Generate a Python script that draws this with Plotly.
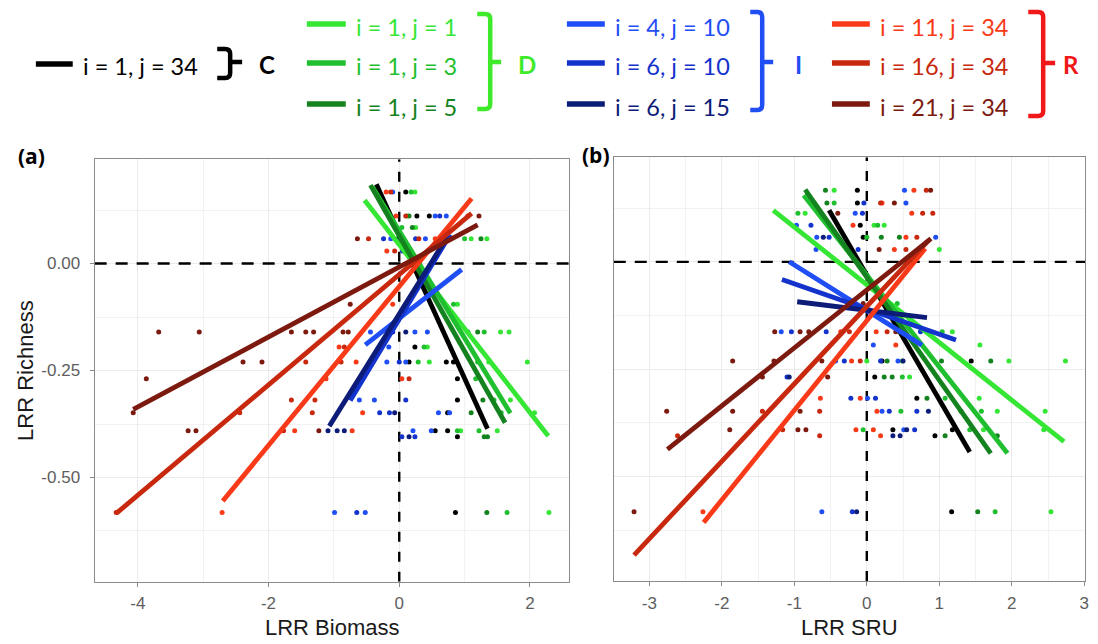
import plotly.graph_objects as go

W, H = 1098, 644

# ---------------- series definitions ----------------
series_names = ["i = 1, j = 34", "i = 1, j = 1", "i = 1, j = 3", "i = 1, j = 5",
                "i = 4, j = 10", "i = 6, j = 10", "i = 6, j = 15",
                "i = 11, j = 34", "i = 16, j = 34", "i = 21, j = 34"]
series_colors = ["#000000", "#35e635", "#1fbf2f", "#14821e",
                 "#1f4ef5", "#1432cc", "#0c1c78",
                 "#f83a18", "#c8280e", "#7d1a0f"]

# ---------------- panel (a): LRR Biomass vs LRR Richness ----------------
bio_x_c = [0.10, 0.27, 0.46, 0.24, 0.15, 0.72, 0.83, 0.89, 0.89, 0.74, 0.55, 0.74, 0.89, 0.86, -0.02]
bio_y_c = [0.167, 0.111, 0.111, -0.195, -0.230, -0.230, -0.230, -0.269, -0.319, -0.349, -0.391, -0.391, -0.405, -0.582, 0.058]
bio_x_d1 = [0.24, 0.12, 0.25, 1.34, 1.10, 0.89, 1.68, 1.55, 0.43, 0.46, 1.96, 1.70, 2.07, 1.50, 0.94, 2.29, 1.37]
bio_y_d1 = [0.167, 0.111, 0.084, 0.058, 0.058, -0.095, -0.160, -0.160, -0.195, -0.230, -0.230, -0.319, -0.349, -0.391, -0.391, -0.582, -0.230]
bio_x_d3 = [0.18, 0.04, 1.00, 0.83, 1.30, 0.38, 0.29, 1.17, 1.45, 1.56, 1.22, 0.89, 1.65, 1.20]
bio_y_d3 = [0.167, 0.084, 0.058, -0.095, -0.160, -0.195, -0.230, -0.269, -0.319, -0.349, -0.391, -0.391, -0.582, -0.230]
bio_x_d5 = [0.15, 0.20, 1.25, 1.05, 1.20, 1.28, 1.10, 1.30, 1.35, 1.34, 0.08]
bio_y_d5 = [0.111, 0.084, 0.058, -0.160, -0.160, -0.319, -0.349, -0.405, -0.405, -0.582, 0.029]
bio_x_i4 = [-0.10, 0.55, 0.72, -0.13, 0.40, -0.44, 0.24, 0.43, -0.16, -0.19, 0.10, -0.61, -0.38, 0.60, 0.77, 0.21, 0.49, -0.99, -0.52]
bio_y_i4 = [0.167, 0.111, 0.111, 0.058, 0.058, -0.160, -0.160, -0.160, -0.195, -0.230, -0.230, -0.319, -0.319, -0.349, -0.349, -0.391, -0.391, -0.582, -0.582]
bio_x_i6 = [0.62, -0.24, 0.25, -0.10, 0.00, 0.10, -0.30, -0.15, 0.04, 0.24, -0.65, 0.05]
bio_y_i6 = [0.111, 0.058, 0.058, -0.160, -0.230, -0.319, -0.349, -0.349, -0.405, -0.405, -0.582, 0.029]
bio_x_i15 = [0.00, 0.10, -0.07, -1.09, -0.95, -0.84, 0.15]
bio_y_i15 = [0.058, -0.160, -0.349, -0.391, -0.391, -0.391, -0.405]
bio_x_r11 = [-0.20, -0.05, 0.55, -0.19, -0.10, -0.92, -0.41, -0.66, 0.04, -0.56, -0.72, -1.60, -2.71, -1.12]
bio_y_r11 = [0.167, 0.111, 0.058, 0.029, -0.095, -0.195, -0.230, -0.230, -0.269, -0.349, -0.391, -0.391, -0.582, -0.269]
bio_x_r16 = [-0.13, 0.10, 1.05, -0.47, 0.30, -0.07, -0.84, -0.89, -1.43, 0.15, -1.65, -1.29, -2.44, -1.33, -1.77, -4.33]
bio_y_r16 = [0.167, 0.111, 0.111, 0.058, 0.058, 0.029, -0.195, -0.230, -0.230, -0.269, -0.319, -0.319, -0.349, -0.349, -0.391, -0.582]
bio_x_r21 = [-0.64, -0.75, 1.22, -3.68, -3.06, -1.65, -1.43, -1.31, -0.86, -0.78, -2.39, -2.10, -3.87, -4.07, -3.23, -3.11, -1.23]
bio_y_r21 = [0.058, -0.095, 0.111, -0.160, -0.160, -0.160, -0.160, -0.160, -0.160, -0.160, -0.230, -0.230, -0.269, -0.349, -0.391, -0.391, -0.391]

# fitted lines, panel (a): [x_start, x_end], [y_start, y_end]
bio_fit_x = [[-0.35, 1.35], [-0.53, 2.28], [-0.41, 1.70], [-0.44, 1.62],
             [-0.52, 0.955], [-0.75, 0.78], [-1.07, 0.73],
             [-2.70, 1.107], [-4.33, 1.107], [-4.07, 1.20]]
bio_fit_y = [[0.185, -0.386], [0.148, -0.403], [0.179, -0.350], [0.183, -0.372],
             [-0.190, -0.014], [-0.320, 0.068], [-0.380, 0.061],
             [-0.555, 0.152], [-0.584, 0.117], [-0.341, 0.090]]

# ---------------- panel (b): LRR SRU vs LRR Richness ----------------
sru_x_c = [-0.13, -0.13, -0.09, -0.05, 0.21, 1.44, 0.11, 0.69, 0.36, 1.18, 0.94, 1.17]
sru_y_c = [0.167, 0.137, 0.085, 0.057, -0.231, -0.231, -0.268, -0.318, -0.391, -0.391, -0.405, -0.582]
sru_x_d1 = [-0.45, -0.85, 0.10, 0.24, 1.00, 1.18, 1.56, 0.00, 1.96, 2.74, 0.59, 1.55, 2.46, 1.80, 2.44, 1.61, 2.54]
sru_y_d1 = [0.167, 0.113, 0.085, 0.085, 0.029, -0.163, -0.194, -0.231, -0.231, -0.231, -0.268, -0.318, -0.348, -0.348, -0.391, -0.391, -0.582]
sru_x_d3 = [-0.45, -0.95, 0.15, 0.00, 0.42, 1.04, 0.49, 0.49, 1.08, 0.47, 1.58, 1.42, -0.05, 1.77]
sru_y_d3 = [0.137, 0.113, 0.085, 0.057, -0.097, -0.163, -0.231, -0.268, -0.318, -0.348, -0.348, -0.391, -0.391, -0.582]
sru_x_d5 = [-0.57, -0.55, 0.20, 0.45, 0.28, 1.03, 1.71, 0.24, 0.35, 0.83, 1.30, 1.08, 1.80, 1.53]
sru_y_d5 = [0.167, 0.137, 0.057, 0.057, -0.231, -0.231, -0.231, -0.268, -0.268, -0.318, -0.348, -0.405, -0.405, -0.582]
sru_x_i4 = [0.52, 0.54, -0.16, -0.97, -0.69, 0.95, -0.70, -1.18, 0.09, -0.43, 0.43, 0.01, 0.21, 0.51, -0.62]
sru_y_i4 = [0.167, 0.137, 0.113, 0.085, 0.057, 0.057, 0.029, -0.163, -0.194, -0.231, -0.231, -0.318, -0.348, -0.391, -0.582]
sru_x_i6 = [-0.04, -0.06, -0.77, -0.52, -0.12, -1.04, -0.56, 0.74, -0.31, 0.19, -1.10, -0.22, 0.12, 0.31, 0.69, 0.66, -0.20]
sru_y_i6 = [0.137, 0.113, 0.085, 0.057, 0.029, -0.163, -0.163, -0.163, -0.231, -0.231, -0.268, -0.318, -0.318, -0.348, -0.348, -0.391, -0.582]
sru_x_i15 = [-0.60, 0.50, -1.07, 0.85, 0.36, 0.46, -0.14, 0.55]
sru_y_i15 = [0.057, -0.231, -0.268, -0.348, -0.405, -0.405, -0.582, -0.391]
sru_x_r11 = [0.65, 0.21, 0.62, -0.19, 0.54, 0.38, -0.36, 0.13, 0.40, -0.21, -0.09, -0.64, 0.14, -0.15, 0.09, 0.19, -2.26]
sru_y_r11 = [0.167, 0.137, 0.113, 0.085, 0.057, 0.029, -0.163, -0.163, -0.194, -0.231, -0.318, -0.318, -0.348, -0.391, -0.391, -0.405, -0.582]
sru_x_r16 = [0.82, 0.19, 0.77, 0.91, 0.69, 0.54, -0.24, 0.28, -0.09, -0.65, -1.44, -1.16, -0.65, -2.61]
sru_y_r16 = [0.167, 0.137, 0.113, 0.113, 0.057, 0.029, -0.163, -0.163, -0.231, -0.348, -0.348, -0.391, -0.405, -0.405]
sru_x_r21 = [0.88, 0.38, -0.40, 0.17, -0.05, -1.27, -0.92, -0.80, 0.40, -1.85, -1.28, -0.62, -1.44, -0.54, -2.76, -1.85, -0.92, -1.89, -0.95, -0.84, -3.21]
sru_y_r21 = [0.167, 0.137, 0.113, 0.029, -0.097, -0.163, -0.163, -0.163, -0.163, -0.231, -0.231, -0.231, -0.268, -0.268, -0.348, -0.348, -0.348, -0.391, -0.391, -0.391, -0.582]

sru_fit_x = [[-0.52, 1.42], [-1.29, 2.72], [-0.87, 1.94], [-0.85, 1.71],
             [-1.07, 0.76], [-1.17, 1.23], [-0.96, 0.83],
             [-2.25, 0.805], [-3.21, 0.853], [-2.75, 0.885]]
sru_fit_y = [[0.120, -0.443], [0.120, -0.419], [0.155, -0.446], [0.168, -0.446],
             [0.000, -0.194], [-0.041, -0.182], [-0.093, -0.130],
             [-0.607, 0.031], [-0.683, 0.050], [-0.437, 0.054]]

bio_pts = [(bio_x_c, bio_y_c), (bio_x_d1, bio_y_d1), (bio_x_d3, bio_y_d3), (bio_x_d5, bio_y_d5),
           (bio_x_i4, bio_y_i4), (bio_x_i6, bio_y_i6), (bio_x_i15, bio_y_i15),
           (bio_x_r11, bio_y_r11), (bio_x_r16, bio_y_r16), (bio_x_r21, bio_y_r21)]
sru_pts = [(sru_x_c, sru_y_c), (sru_x_d1, sru_y_d1), (sru_x_d3, sru_y_d3), (sru_x_d5, sru_y_d5),
           (sru_x_i4, sru_y_i4), (sru_x_i6, sru_y_i6), (sru_x_i15, sru_y_i15),
           (sru_x_r11, sru_y_r11), (sru_x_r16, sru_y_r16), (sru_x_r21, sru_y_r21)]

# axis ticks and ranges
bio_range = [-4.66, 2.596]
sru_range = [-3.49, 3.01]
rich_range = [-0.7435, 0.2435]
bio_ticks = [-4, -2, 0, 2]
bio_minor = [-3, -1, 1]
sru_ticks = [-3, -2, -1, 0, 1, 2, 3]
sru_minor = [-2.5, -1.5, -0.5, 0.5, 1.5, 2.5]
rich_ticks = [-0.5, -0.25, 0.0]
rich_ticktext = ["-0.50", "-0.25", "0.00"]
rich_minor = [-0.625, -0.375, -0.125, 0.125]

# legend groups
group_labels = ["C", "D", "I", "R"]
group_colors = ["#000000", "#3fea2a", "#1f4ef5", "#f01818"]

fig = go.Figure()

# points first, then lines
for k in range(len(series_names)):
    bx, by = bio_pts[k]
    fig.add_trace(go.Scatter(x=bx, y=by, mode="markers", xaxis="x", yaxis="y",
                             marker=dict(size=5, color=series_colors[k]), hoverinfo="skip"))
    sx, sy = sru_pts[k]
    fig.add_trace(go.Scatter(x=sx, y=sy, mode="markers", xaxis="x2", yaxis="y2",
                             marker=dict(size=5, color=series_colors[k]), hoverinfo="skip"))
for k in range(len(series_names)):
    fig.add_trace(go.Scatter(x=bio_fit_x[k], y=bio_fit_y[k], mode="lines", xaxis="x", yaxis="y",
                             line=dict(width=4.8, color=series_colors[k]), hoverinfo="skip"))
    fig.add_trace(go.Scatter(x=sru_fit_x[k], y=sru_fit_y[k], mode="lines", xaxis="x2", yaxis="y2",
                             line=dict(width=4.8, color=series_colors[k]), hoverinfo="skip"))

BORDER = "#8a8a8a"
GRID = "#ebebeb"
tickfont = dict(family="Liberation Sans, Arial, sans-serif", size=17, color="#5e5e5e")


def axis(domain, rng, tickvals, ticktext, minor_vals, show_labels=True, show_ticks=True, anchor=None):
    d = dict(domain=domain, range=rng, tickmode="array", tickvals=tickvals, ticktext=ticktext,
             showline=True, mirror=True, linecolor=BORDER, linewidth=1.3,
             showgrid=True, gridcolor=GRID, gridwidth=1.1, zeroline=False,
             ticks="outside" if show_ticks else "", ticklen=4, tickwidth=1.3, tickcolor=BORDER,
             showticklabels=show_labels, tickfont=tickfont, fixedrange=True,
             minor=dict(tickmode="array", tickvals=minor_vals, showgrid=True, gridcolor="#f2f2f2",
                        gridwidth=1, ticks=""))
    if anchor:
        d["anchor"] = anchor
    return d


fig.update_layout(
    width=W, height=H, margin=dict(l=0, r=0, t=0, b=0),
    paper_bgcolor="white", plot_bgcolor="white", showlegend=False,
    xaxis=axis([95 / W, 571 / W], bio_range, bio_ticks, [str(v) for v in bio_ticks], bio_minor, anchor="y"),
    yaxis=axis([1 - 581.7 / H, 1 - 159.3 / H], rich_range, rich_ticks, rich_ticktext, rich_minor, anchor="x"),
    xaxis2=axis([616 / W, 1089 / W], sru_range, sru_ticks, [str(v) for v in sru_ticks], sru_minor, anchor="y2"),
    yaxis2=axis([1 - 581 / H, 1 - 157.3 / H], rich_range, rich_ticks, rich_ticktext, rich_minor,
                show_labels=False, show_ticks=False, anchor="x2"),
)
fig.layout.yaxis.ticklabelstandoff = 6
fig.layout.xaxis.ticklabelstandoff = 2
fig.layout.xaxis2.ticklabelstandoff = 2

shapes = []
# dashed reference lines at zero (between grid and data)
for xr, yrf, xrange_ in (("x", "y", bio_range), ("x2", "y2", sru_range)):
    shapes.append(dict(type="line", xref=xr, yref=yrf, x0=xrange_[0], x1=xrange_[1], y0=0, y1=0,
                       line=dict(color="black", width=2.4, dash="12px,9px"), layer="between"))
    shapes.append(dict(type="line", xref=xr, yref=yrf, x0=0, x1=0, y0=rich_range[0], y1=rich_range[1],
                       line=dict(color="black", width=2.4, dash="10px,10px"), layer="between"))


def fx(p):
    return p / W


def fy(p):
    return 1 - p / H


# legend: lines + texts
legend_rows_y = [24, 63, 104]
col_line_x = [(308, 347), (569, 607), (835, 873)]
col_text_x = [355, 615, 881]
annotations = []
text_font = "Lato, Open Sans, sans-serif"

# black entry (C)
shapes.append(dict(type="line", xref="paper", yref="paper", x0=fx(36), x1=fx(73), y0=fy(64), y1=fy(64),
                   line=dict(color=series_colors[0], width=5.5)))
annotations.append(dict(xref="paper", yref="paper", x=fx(81), y=fy(66), xanchor="left", yanchor="middle",
                        text=series_names[0], showarrow=False,
                        font=dict(family=text_font, size=23.5, color=series_colors[0])))
for c in range(3):
    for r in range(3):
        k = 1 + c * 3 + r
        y = legend_rows_y[r]
        shapes.append(dict(type="line", xref="paper", yref="paper", x0=fx(col_line_x[c][0]), x1=fx(col_line_x[c][1]),
                           y0=fy(y), y1=fy(y), line=dict(color=series_colors[k], width=5.5)))
        annotations.append(dict(xref="paper", yref="paper", x=fx(col_text_x[c]), y=fy(y + 2.5),
                                xanchor="left", yanchor="middle", text=series_names[k], showarrow=False,
                                font=dict(family=text_font, size=23.5, color=series_colors[k])))

# brackets: (left hook x, vertical x, nub x, top y, bottom y, mid y)
brackets = [(218, 231, 243, 49, 78, 62), (479, 492, 503, 14, 109, 62),
            (753, 765, 776, 12, 110, 62), (1032, 1047, 1059, 12, 116, 63)]
group_label_x = [268, 529, 801, 1075]
rad = 5
for g in range(4):
    x0, xv, xn, yt, yb, ym = brackets[g]
    path = (f"M {fx(x0)},{fy(yt)} L {fx(xv - rad)},{fy(yt)} Q {fx(xv)},{fy(yt)} {fx(xv)},{fy(yt + rad)} "
            f"L {fx(xv)},{fy(yb - rad)} Q {fx(xv)},{fy(yb)} {fx(xv - rad)},{fy(yb)} L {fx(x0)},{fy(yb)} "
            f"M {fx(xv)},{fy(ym)} L {fx(xn)},{fy(ym)}")
    shapes.append(dict(type="path", xref="paper", yref="paper", path=path,
                       line=dict(color=group_colors[g], width=4.5)))
    annotations.append(dict(xref="paper", yref="paper", x=fx(group_label_x[g]), y=fy(65),
                            xanchor="center", yanchor="middle", text="<b>" + group_labels[g] + "</b>",
                            showarrow=False, font=dict(family=text_font, size=24, color=group_colors[g])))

# panel labels
annotations.append(dict(xref="paper", yref="paper", x=fx(32), y=fy(156), xanchor="center", yanchor="middle",
                        text="<b>(a)</b>", showarrow=False,
                        font=dict(family="Open Sans, sans-serif", size=21, color="black")))
annotations.append(dict(xref="paper", yref="paper", x=fx(598), y=fy(155), xanchor="center", yanchor="middle",
                        text="<b>(b)</b>", showarrow=False,
                        font=dict(family="Open Sans, sans-serif", size=21, color="black")))

# axis titles
title_font = dict(family="Liberation Sans, Arial, sans-serif", size=22, color="#1a1a1a")
annotations.append(dict(xref="paper", yref="paper", x=fx(333), y=fy(627), xanchor="center", yanchor="middle",
                        text="LRR Biomass", showarrow=False, font=title_font))
annotations.append(dict(xref="paper", yref="paper", x=fx(852.5), y=fy(627), xanchor="center", yanchor="middle",
                        text="LRR SRU", showarrow=False, font=title_font))
annotations.append(dict(xref="paper", yref="paper", x=fx(25), y=fy(370), xanchor="center", yanchor="middle",
                        text="LRR Richness", showarrow=False, textangle=-90, font=title_font))

fig.update_layout(shapes=shapes, annotations=annotations)
fig.write_html("out.html", config={"displayModeBar": False},
               post_script="document.body.style.margin='0px';document.body.style.padding='0px';")
